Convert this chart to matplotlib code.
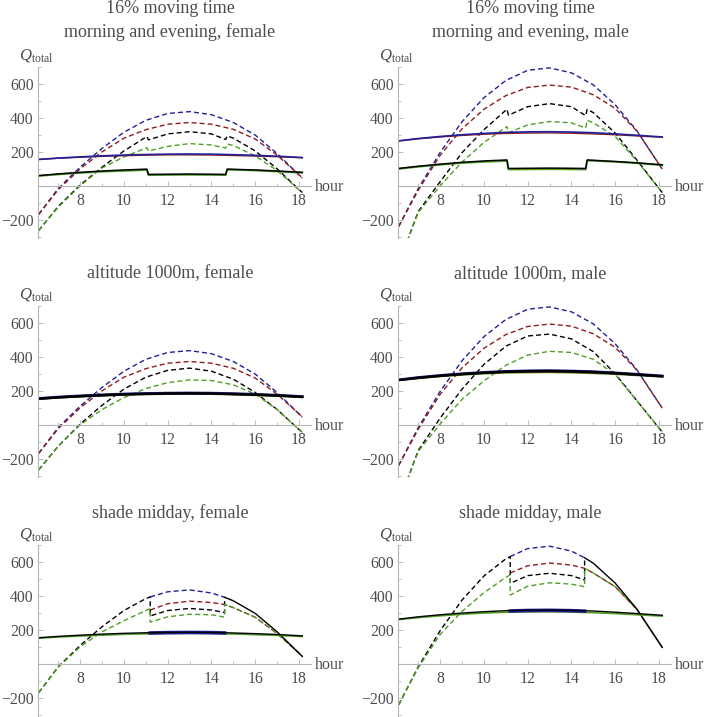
import matplotlib.pyplot as plt
from matplotlib.ticker import FixedLocator

plt.rcParams['font.family'] = ['Liberation Serif', 'DejaVu Serif']
plt.rcParams['mathtext.fontset'] = 'custom'
plt.rcParams['mathtext.rm'] = 'Liberation Serif'
plt.rcParams['mathtext.it'] = 'Liberation Serif:italic'

# ---- data ----
hours = [6.1, 7, 8, 9, 10, 11, 12, 13, 14, 15, 16, 17, 18.15]
# moving time: steps at about 11:05 and 14:40
hours_step = [6.1, 7, 8, 9, 10, 11.05, 11.12, 12, 13, 14, 14.65, 14.72, 15, 16, 17, 18.15]
# shade midday: 11.2 - 14.6
hours_am = [6.1, 7, 8, 9, 10, 11, 11.2]
hours_mid = [11.2, 12, 13, 14, 14.6]
hours_pm = [14.6, 15, 16, 17, 18.15]

female_blue_dash = [-168, -15, 110, 220, 315, 385, 425, 436, 418, 372, 298, 190, 45]
female_red_dash = [-168, -22, 100, 200, 280, 330, 362, 372, 362, 332, 275, 180, 48]
female_blue_solid = [155, 163, 170, 176, 181, 184, 186, 187, 186, 183, 179, 174, 166]
female_red_solid = [155, 162, 168, 173, 177, 180, 182, 182, 181, 178, 175, 171, 165]
female_black_solid = [153, 161, 168, 174, 179, 182, 184, 185, 184, 181, 177, 172, 164]
female_green_solid = [152, 159, 165, 170, 175, 178, 180, 181, 180, 177, 173, 169, 162]

male_blue_dash = [-239, -15, 197, 377, 518, 619, 679, 693, 664, 593, 476, 322, 98]
male_red_dash = [-239, -25, 180, 335, 450, 530, 578, 592, 580, 535, 455, 320, 98]
male_blue_solid = [264, 278, 290, 300, 308, 314, 317, 318, 316, 312, 305, 297, 287]
male_red_solid = [264, 276, 287, 296, 303, 308, 310, 311, 309, 305, 300, 293, 285]
male_black_solid = [263, 276, 288, 298, 306, 312, 315, 316, 314, 310, 303, 295, 285]
male_green_solid = [262, 273, 284, 293, 300, 305, 307, 308, 306, 302, 297, 290, 282]

# 16% moving time, morning and evening
f_move_black_dash = [-263, -120, 5, 110, 205, 290, 270, 305, 318, 305, 272, 293, 280, 205, 100, -40]
f_move_green_dash = [-263, -125, 0, 105, 170, 224, 204, 232, 248, 240, 222, 245, 237, 175, 90, -40]
f_move_black_solid = [60, 70, 79, 87, 93, 98, 67, 68, 69, 68, 67, 98, 97, 93, 87, 79]
f_move_green_solid = [58, 67, 76, 83, 88, 93, 63, 64, 65, 64, 63, 95, 94, 90, 84, 77]
m_move_black_dash = [-460, -150, 25, 195, 330, 450, 415, 465, 483, 465, 412, 450, 430, 310, 150, -40]
m_move_green_dash = [-460, -155, 0, 140, 255, 348, 312, 358, 378, 370, 340, 385, 370, 290, 145, -40]
m_move_black_solid = [102, 115, 127, 138, 146, 152, 102, 103, 104, 103, 102, 152, 150, 143, 135, 123]
m_move_green_solid = [100, 112, 124, 134, 141, 146, 96, 97, 98, 97, 96, 148, 147, 141, 133, 121]

# altitude 1000m
f_alt_black_dash = [-265, -125, 5, 115, 210, 280, 320, 333, 315, 268, 190, 90, -45]
f_alt_green_dash = [-265, -125, 0, 90, 160, 213, 248, 264, 260, 235, 180, 90, -45]
m_alt_black_dash = [-460, -150, 40, 210, 355, 462, 522, 533, 505, 430, 300, 140, -43]
m_alt_green_dash = [-460, -155, 5, 150, 258, 350, 410, 432, 425, 385, 295, 140, -43]

# shade midday
f_shade_black_am = [-168, -15, 110, 220, 315, 385, 395]
f_shade_black_mid = [283, 315, 327, 318, 303]
f_shade_black_pm = [393, 372, 298, 190, 45]
f_shade_blue_mid = [395, 425, 436, 418, 393]
f_shade_red_mid = [318, 355, 370, 362, 350]
f_shade_red_pm = [350, 332, 275, 180, 48]
f_shade_green_am = [-168, -18, 102, 190, 255, 315, 326]
f_shade_green_mid = [247, 278, 293, 290, 276]
f_shade_blue_solid_mid = [183, 185, 186, 185, 183]

m_shade_black_am = [-239, -15, 197, 377, 518, 619, 632]
m_shade_black_mid = [475, 520, 534, 520, 494]
m_shade_black_pm = [625, 593, 476, 322, 98]
m_shade_blue_mid = [632, 679, 693, 664, 625]
m_shade_red_mid = [536, 578, 594, 582, 563]
m_shade_red_pm = [563, 535, 455, 320, 98]
m_shade_green_am = [-239, -20, 175, 310, 420, 510, 524]
m_shade_green_mid = [406, 458, 478, 470, 455]
m_shade_blue_solid_mid = [312, 315, 316, 314, 311]

BLUE = '#20209a'
RED = '#8e1c1c'
GREEN = '#4f9f22'
BLACK = '#000000'
AXIS = '#b4b4b4'
TEXT = '#4d4d4d'
DASH = (0, (3.6, 2.2))

W, H = 705, 717
fig = plt.figure(figsize=(W / 100, H / 100), dpi=100)


def make_axes(left_px, top_px):
    ax = fig.add_axes([left_px / W, 1 - (top_px + 171) / H, 273 / W, 171 / H])
    ax.set_xlim(6.07, 18.55)
    ax.set_ylim(-305, 700)
    ax.patch.set_alpha(0)
    for s in ['top', 'right']:
        ax.spines[s].set_visible(False)
    ax.spines['bottom'].set_position(('data', 0))
    for s in ['bottom', 'left']:
        ax.spines[s].set_color(AXIS)
        ax.spines[s].set_linewidth(0.8)
    ax.xaxis.set_major_locator(FixedLocator([8, 10, 12, 14, 16, 18]))
    ax.xaxis.set_minor_locator(FixedLocator([7, 9, 11, 13, 15, 17]))
    ax.yaxis.set_major_locator(FixedLocator([-200, 200, 400, 600]))
    ax.yaxis.set_minor_locator(FixedLocator([-300, -100, 100, 300, 500, 700]))
    ax.tick_params(which='both', direction='in', color=AXIS, width=0.6,
                   labelcolor=TEXT, labelsize=11.3)
    ax.tick_params(which='major', length=3.5)
    ax.tick_params(which='minor', length=2)
    ax.tick_params(axis='x', pad=5)
    ax.tick_params(axis='y', pad=3)
    ax.annotate('hour', xy=(1, 0), xycoords=('axes fraction', 'data'),
                xytext=(3, -1), textcoords='offset points',
                ha='left', va='center', fontsize=11.5, color=TEXT)
    ax.annotate(r'$Q_{\mathrm{total}}$', xy=(0, 1), xycoords='axes fraction',
                xytext=(-13.5, 5), textcoords='offset points',
                ha='left', va='baseline', fontsize=12, color=TEXT)
    return ax


def dashed(ax, x, y, c):
    ax.plot(x, y, color=c, lw=1.0, ls=DASH)


def solid(ax, x, y, c, lw=1.0):
    ax.plot(x, y, color=c, lw=lw)


axs = {}
for r, top in enumerate([66.7, 305.7, 545]):
    for c, left in enumerate([38, 398]):
        axs[r, c] = make_axes(left, top)

# titles
for cx, sex in [(170, 'female'), (530, 'male')]:
    fig.text(cx / W, 1 - 13.3 / H, '16% moving time', ha='center', va='baseline',
             fontsize=13, color=TEXT)
    fig.text(cx / W, 1 - 37.3 / H, 'morning and evening, ' + sex, ha='center',
             va='baseline', fontsize=13, color=TEXT)
    fig.text(cx / W, 1 - 277.7 / H, 'altitude 1000m, ' + sex, ha='center',
             va='baseline', fontsize=13, color=TEXT)
    fig.text(cx / W, 1 - 517.7 / H, 'shade midday, ' + sex, ha='center',
             va='baseline', fontsize=13, color=TEXT)

# row 1: moving time
for col, bd, rd, bs, rs, kd, gd, ks, gs in [
        (0, female_blue_dash, female_red_dash, female_blue_solid, female_red_solid,
         f_move_black_dash, f_move_green_dash, f_move_black_solid, f_move_green_solid),
        (1, male_blue_dash, male_red_dash, male_blue_solid, male_red_solid,
         m_move_black_dash, m_move_green_dash, m_move_black_solid, m_move_green_solid)]:
    ax = axs[0, col]
    dashed(ax, hours, bd, BLUE)
    dashed(ax, hours, rd, RED)
    dashed(ax, hours_step, kd, BLACK)
    dashed(ax, hours_step, gd, GREEN)
    solid(ax, hours, rs, RED)
    solid(ax, hours, bs, BLUE, 1.2)
    solid(ax, hours_step, gs, GREEN, 1.4)
    solid(ax, hours_step, ks, BLACK, 1.1)

# row 2: altitude
for col, bd, rd, bs, rs, kd, gd, ks, gs in [
        (0, female_blue_dash, female_red_dash, female_blue_solid, female_red_solid,
         f_alt_black_dash, f_alt_green_dash, female_black_solid, female_green_solid),
        (1, male_blue_dash, male_red_dash, male_blue_solid, male_red_solid,
         m_alt_black_dash, m_alt_green_dash, male_black_solid, male_green_solid)]:
    ax = axs[1, col]
    dashed(ax, hours, bd, BLUE)
    dashed(ax, hours, rd, RED)
    dashed(ax, hours, kd, BLACK)
    dashed(ax, hours, gd, GREEN)
    solid(ax, hours, gs, GREEN, 1.2)
    solid(ax, hours, rs, RED)
    solid(ax, hours, bs, BLUE, 2.0)
    solid(ax, hours, ks, BLACK, 1.8)

# row 3: shade midday
for col, k_am, k_mid, k_pm, b_mid, r_mid, r_pm, g_am, g_mid, bs, gs, bs_mid in [
        (0, f_shade_black_am, f_shade_black_mid, f_shade_black_pm, f_shade_blue_mid,
         f_shade_red_mid, f_shade_red_pm, f_shade_green_am, f_shade_green_mid,
         female_blue_solid, female_green_solid, f_shade_blue_solid_mid),
        (1, m_shade_black_am, m_shade_black_mid, m_shade_black_pm, m_shade_blue_mid,
         m_shade_red_mid, m_shade_red_pm, m_shade_green_am, m_shade_green_mid,
         male_blue_solid, male_green_solid, m_shade_blue_solid_mid)]:
    ax = axs[2, col]
    dashed(ax, hours_mid, b_mid, BLUE)
    dashed(ax, hours_mid + hours_pm[1:], r_mid + r_pm[1:], RED)
    dashed(ax, hours_am + hours_mid + hours_pm[:1], k_am + k_mid + k_pm[:1], BLACK)
    dashed(ax, hours_am + hours_mid + hours_pm, g_am + g_mid + r_pm, GREEN)
    solid(ax, hours_pm, k_pm, BLACK)
    solid(ax, hours, gs, GREEN, 1.2)
    solid(ax, hours_mid, bs_mid, BLUE, 2.6)
    solid(ax, hours, bs, BLACK, 1.0)

fig.savefig('out.png', dpi=100)
